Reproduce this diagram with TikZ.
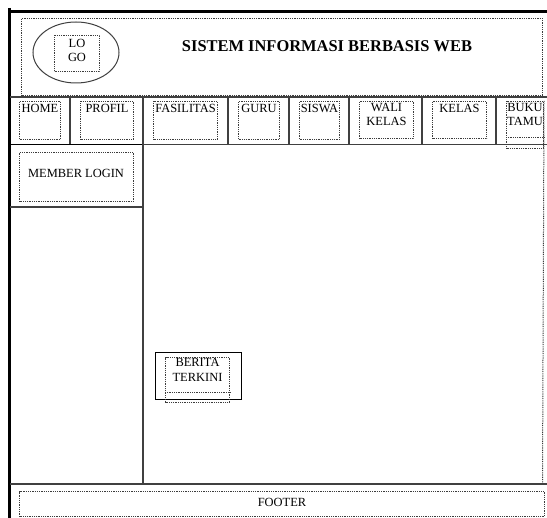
\documentclass[tikz,border=0pt]{standalone}
\usepackage{fontspec}
\setmainfont{Liberation Serif}
\usetikzlibrary{positioning, shapes.geometric}

\begin{document}
\begin{tikzpicture}[
    x=1bp, y=-1bp,
    font=\fontsize{12.5}{14.5}\selectfont,
    % --- Styles ---
    border/.style={draw=black, line width=3bp},
    frame/.style={draw=frame_line, line width=1.3bp},
    dotline/.style={draw=dot_line, line width=1bp, dash pattern=on 0.9bp off 0.9bp},
    dotbox/.style={
        rectangle, dotline, inner sep=0pt, anchor=north west
    },
    boxtext/.style={inner sep=1.5bp, align=center, text=black},
    title/.style={font=\fontsize{16.5}{18}\selectfont\bfseries}
]

    % ── Colour Palette ──────────────────────────────────────────────────
    \definecolor{frame_line}{RGB}{64, 64, 64}
    \definecolor{dot_line}{RGB}{60, 60, 60}

    \useasboundingbox (0,0) rectangle (547,518);

    % ── PAGE FRAME ──────────────────────────────────────────────────────
    \draw [border] (9,8) -- (9,518);
    \draw [border] (8,11.5) -- (547,11.5);

    % ── HEADER ──────────────────────────────────────────────────────────
    \node (header) [dotbox, minimum width=521bp, minimum height=77bp] at (21,18) {};

    \node (logoring) [ellipse, draw=frame_line, line width=1bp,
                      minimum width=86bp, minimum height=61bp] at (76,52.5) {};
    \node (logo) [dotbox, minimum width=45bp, minimum height=36bp] at (54,35) {};
    \node [boxtext, below=2.5bp of logo.north] {LO\\GO};

    \node (title) [title] at (327,46.5) {SISTEM INFORMASI BERBASIS WEB};

    % ── NAVIGATION ──────────────────────────────────────────────────────
    \draw [frame] (10,97) -- (547,97);
    \draw [frame] (10,144.5) -- (547,144.5);
    \draw [frame] (70,97) -- (70,144.5);
    \draw [frame] (143,97) -- (143,144.5);
    \draw [frame] (228,97) -- (228,144.5);
    \draw [frame] (289,97) -- (289,144.5);
    \draw [frame] (349,97) -- (349,144.5);
    \draw [frame] (422,97) -- (422,144.5);
    \draw [frame] (496,97) -- (496,144.5);

    % Home
    \node (home) [dotbox, minimum width=41bp, minimum height=38bp] at (19,101) {};
    \node [boxtext, below=2bp of home.north] {HOME};

    % Profil
    \node (profil) [dotbox, minimum width=53bp, minimum height=38bp] at (80,101) {};
    \node [boxtext, below=2bp of profil.north] {PROFIL};

    % Fasilitas
    \node (fasilitas) [dotbox, minimum width=64bp, minimum height=38bp] at (153,101) {};
    \node [boxtext, below=2bp of fasilitas.north] {FASILITAS};

    % Guru
    \node (guru) [dotbox, minimum width=41bp, minimum height=38bp] at (238,101) {};
    \node [boxtext, below=2bp of guru.north] {GURU};

    % Siswa
    \node (siswa) [dotbox, minimum width=40bp, minimum height=38bp] at (299,101) {};
    \node [boxtext, below=2bp of siswa.north] {SISWA};

    % Wali kelas
    \node (walikelas) [dotbox, minimum width=54bp, minimum height=37bp] at (359,101) {};
    \node [boxtext, below=0.5bp of walikelas.north] {WALI\\KELAS};

    % Kelas
    \node (kelas) [dotbox, minimum width=54bp, minimum height=37bp] at (432,101) {};
    \node [boxtext, below=2bp of kelas.north] {KELAS};

    % Buku tamu
    \node (bukutamu) [dotbox, minimum width=37bp, minimum height=47bp] at (506,101) {};
    \node [boxtext, inner sep=1bp, below=1bp of bukutamu.north] {BUKU\\TAMU};
    \draw [dotline] (bukutamu.west |- 0,138) -- (bukutamu.east |- 0,138);
    \draw [dotline] (bukutamu.north east) -- (542.5,484);

    % ── SIDEBAR ─────────────────────────────────────────────────────────
    \draw [draw=black, line width=1.6bp] (10,144.5) -- (143,144.5);
    \draw [frame] (143,144.5) -- (143,484);
    \draw [frame] (10,207) -- (143,207);

    \node (login) [dotbox, minimum width=114bp, minimum height=49bp] at (19,152) {};
    \node [boxtext] at (76,173) {MEMBER LOGIN};

    % ── CONTENT ─────────────────────────────────────────────────────────
    \node (berita) [rectangle, draw=black, line width=1.1bp, anchor=north west,
                    minimum width=86bp, minimum height=47bp] at (155,352) {};
    \node (beritatext) [dotbox, minimum width=64bp, minimum height=45bp] at (165,357) {};
    \node [boxtext, inner sep=1bp, below=0.5bp of beritatext.north] {BERITA\\TERKINI};
    \draw [dotline] (beritatext.west |- 0,392) -- (beritatext.east |- 0,392);

    % ── FOOTER ──────────────────────────────────────────────────────────
    \draw [frame] (10,484) -- (547,484);
    \node (footer) [dotbox, minimum width=525bp, minimum height=25bp] at (19,491) {};
    \node [boxtext] at (282,502) {FOOTER};

\end{tikzpicture}
\end{document}
